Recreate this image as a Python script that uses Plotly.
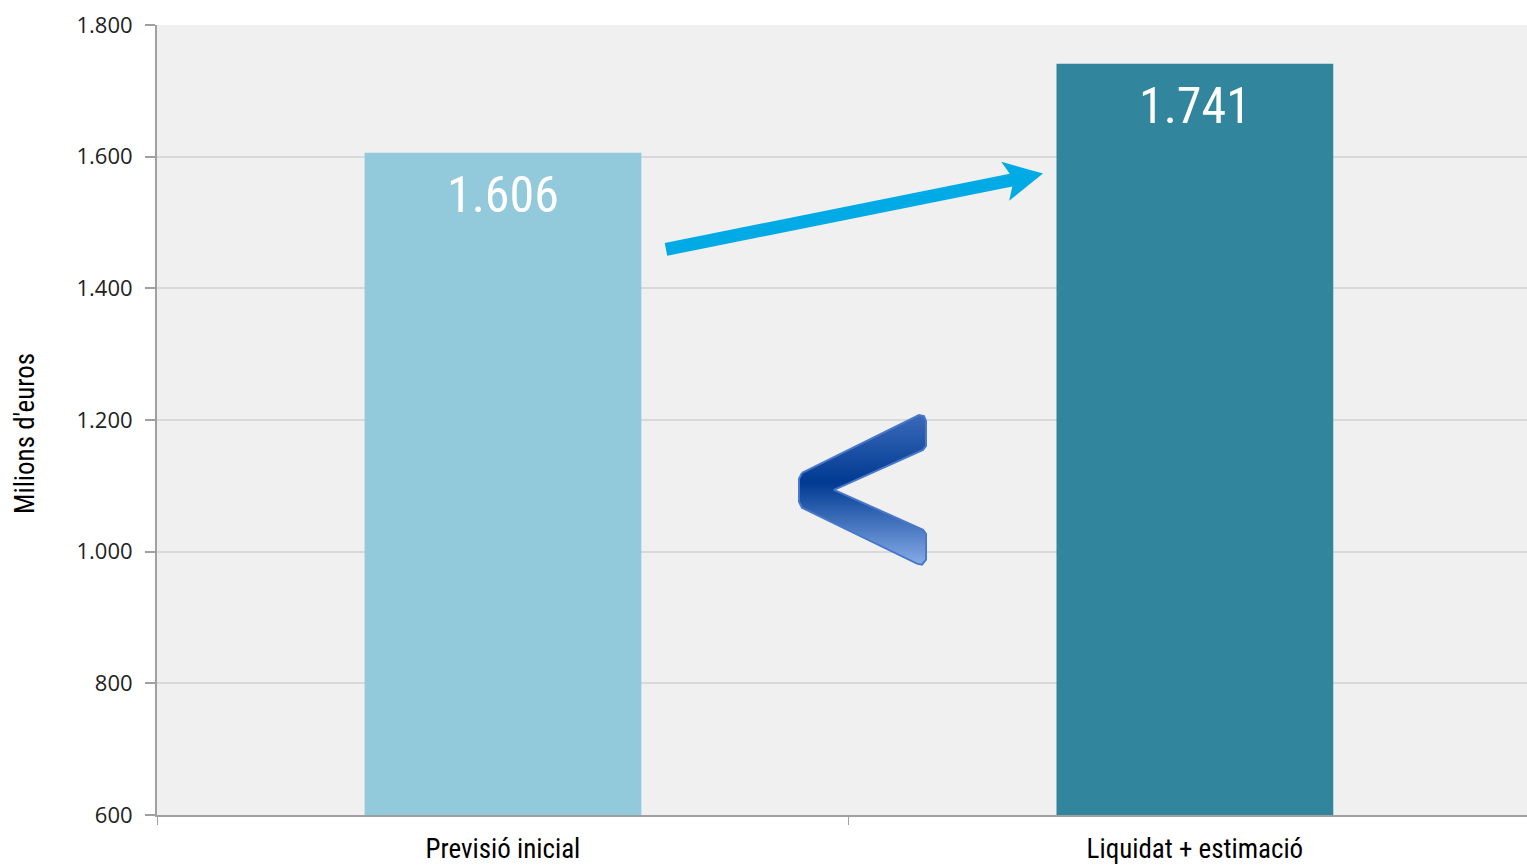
import plotly.graph_objects as go
import math

categories = ["Previsió inicial", "Liquidat + estimació"]
values = [1606, 1741]
value_labels = ["1.606", "1.741"]
bar_colors = ["#93CADB", "#31869D"]
y_ticks = [600, 800, 1000, 1200, 1400, 1600, 1800]
y_tick_labels = ["600", "800", "1.000", "1.200", "1.400", "1.600", "1.800"]
y_title = "Milions d'euros"

NARROW = "Liberation Sans Narrow, Arial Narrow, Roboto Condensed, sans-serif"
TICKF = "Open Sans, Noto Sans, sans-serif"

W, H = 1527, 865
L, R, T, B = 157, 0, 25, 48

fig = go.Figure()
xs = list(range(len(categories)))
fig.add_trace(go.Bar(x=xs, y=values, width=0.4, marker=dict(color=bar_colors, line=dict(width=0)),
                     hoverinfo="skip", showlegend=False))

for x, v, t in zip(xs, values, value_labels):
    fig.add_annotation(x=x, y=v, text=t, showarrow=False, yanchor="top", yshift=-11,
                       font=dict(family=NARROW, size=50, color="white"))

fig.add_annotation(xref="paper", yref="paper", x=0, y=(817 - 435) / 792, xshift=-(157 - 25),
                   text=y_title, textangle=-90, showarrow=False, xanchor="center", yanchor="middle",
                   font=dict(family=NARROW, size=27, color="#000000"))

# decorations on pixel overlay axes (page pixel coordinates)
sx, sy = 666, 250
tx, ty = 1043, 174
dx, dy = tx - sx, ty - sy
ln = math.hypot(dx, dy)
ux, uy = dx / ln, dy / ln
nx, ny = -uy, ux
pts = [(0, -6.5), (352, -6.5), (346, -20), (ln, 0), (346, 20), (352, 6.5), (0, 6.5), (0, -6.5)]
ax_ = [sx + a * ux + p * nx for a, p in pts]
ay_ = [sy + a * uy + p * ny for a, p in pts]
fig.add_trace(go.Scatter(x=ax_, y=ay_, xaxis="x2", yaxis="y2", mode="lines", fill="toself",
                         fillcolor="#00AAE4", line=dict(width=0), hoverinfo="skip", showlegend=False))

lt = [(802, 474), (919, 416), (924, 417), (926, 422), (926, 447), (923, 451), (834, 491),
      (923, 531), (926, 535), (926, 561), (922, 566), (917, 565), (802, 509), (799, 503),
      (799, 480), (802, 474)]
fig.add_trace(go.Scatter(x=[p[0] for p in lt], y=[p[1] for p in lt], xaxis="x2", yaxis="y2",
                         mode="lines", fill="toself",
                         fillgradient=dict(type="vertical",
                                           colorscale=[[0, "#86ACE8"], [0.55, "#003A92"], [1, "#3A6AB8"]]),
                         line=dict(width=2, color="#4A78C8"), hoverinfo="skip", showlegend=False))

fig.update_layout(
    width=W, height=H,
    margin=dict(l=L, r=R, t=T, b=B, pad=0),
    paper_bgcolor="white", plot_bgcolor="#F0F0F0",
    xaxis=dict(range=[-0.5, 1.48], tickvals=xs, ticktext=categories, ticks="",
               tickfont=dict(family=NARROW, size=27, color="#000000"),
               ticklabelstandoff=9,
               showline=True, linecolor="#A0A0A0", linewidth=2, showgrid=False, zeroline=False,
               minor=dict(tickvals=[-0.5, 0.5], ticks="outside", ticklen=8, tickcolor="#A0A0A0",
                          tickwidth=1, showgrid=False)),
    yaxis=dict(range=[600, 1800], tickvals=y_ticks, ticktext=y_tick_labels,
               ticks="outside", ticklen=10, tickcolor="#A0A0A0", tickwidth=2,
               ticklabelstandoff=8,
               tickfont=dict(family=TICKF, size=22, color="#222222"),
               showline=True, linecolor="#A0A0A0", linewidth=2,
               showgrid=True, gridcolor="#D9D9D9", gridwidth=2, zeroline=False),
    xaxis2=dict(overlaying="x", range=[157, W], visible=False, anchor="y2"),
    yaxis2=dict(overlaying="y", range=[817, 25], visible=False, anchor="x2"),
)

fig.write_html("out.html", config={"displayModeBar": False},
               post_script="document.body.style.margin='0';document.body.style.overflow='hidden';")
